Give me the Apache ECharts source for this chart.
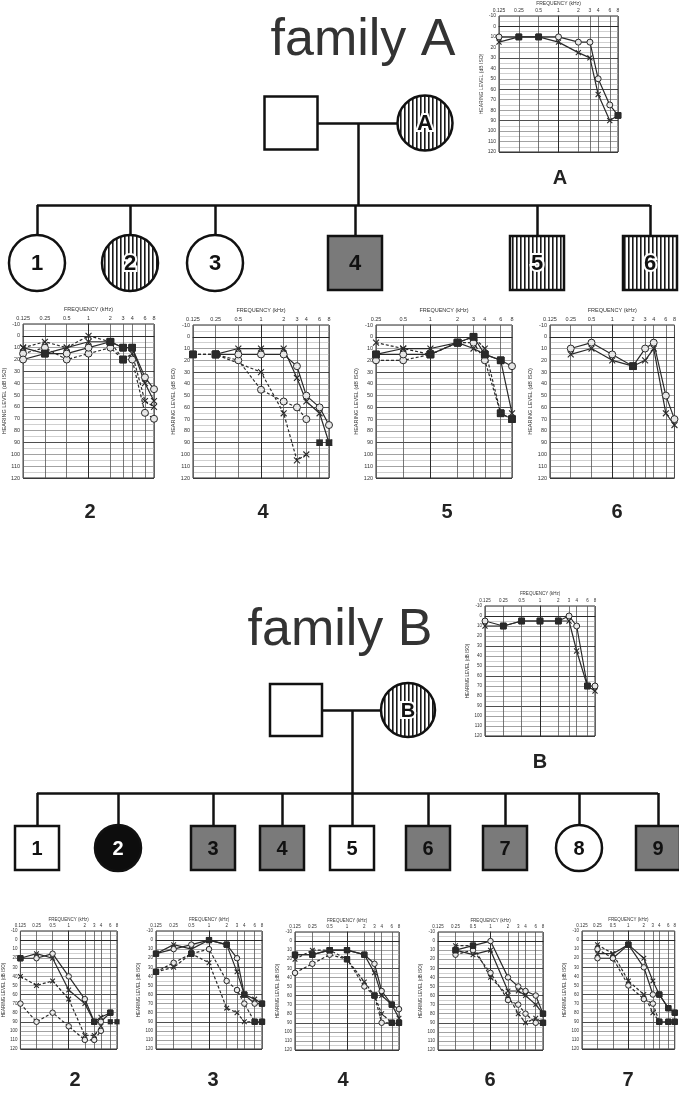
<!DOCTYPE html>
<html><head><meta charset="utf-8">
<script src="https://cdn.jsdelivr.net/npm/echarts@6/dist/echarts.min.js"></script>
<style>html,body{margin:0;padding:0;background:#fff}#c{width:679px;height:1093px}</style>
</head><body><div id="c"></div><script>
// ---------- DATA ----------
const FREQ = [0.125, 0.25, 0.5, 1, 2, 3, 4, 6, 8];
const FREQ_LABELS = ['0.125', '0.25', '0.5', '1', '2', '3', '4', '6', '8'];

// audiograms (dB HL per frequency; null = not measured). O = right ear, X = left ear, d = dashed curve
const audA_O  = [10, 10, 10, 10, 15, 15, 50, 75, 85];
const audA_X  = [15, 10, 10, 15, 25, 30, 65, 90, 85];

const audA2_O  = [20, 15, 15, 10, 5, 10, 10, 35, 45];
const audA2_X  = [10, 15, 10, 5, 5, 10, 10, 40, 55];
const audA2_Od = [15, 10, 20, 15, 10, 20, 20, 65, 70];
const audA2_Xd = [10, 5, 10, 0, 5, 20, 15, 55, 60];

const audA4_O  = [null, 15, 15, 15, 15, 25, 50, 60, 75];
const audA4_X  = [null, 15, 10, 10, 10, 35, 55, 65, 90];
const audA4_Od = [15, 15, 20, 45, 55, 60, 70, null, null];
const audA4_Xd = [15, 15, null, 30, 65, 105, 100, null, null];
const audA4_NR = [null, null, null, null, null, null, null, 90, 90];

const audA5_O  = [null, 15, 15, 15, 5, 0, 15, 20, 25];
const audA5_X  = [null, 15, 10, 10, 5, 10, 15, 20, 65];
const audA5_Od = [null, 20, 20, 15, 5, 5, 20, 65, 70];
const audA5_Xd = [null, 5, 10, 15, 5, 0, 10, 65, 70];

const audA6_O  = [null, 10, 5, 15, 25, 10, 5, 50, 70];
const audA6_X  = [null, 15, 10, 20, 25, 20, 10, 65, 75];

const audB_O  = [5, 10, 5, 5, 5, 0, 10, 70, 70];
const audB_X  = [10, 10, 5, 5, 5, 5, 35, 70, 75];

const audB2_O  = [20, 20, 15, 40, 65, 90, 90, 80, null];
const audB2_X  = [20, 15, 20, 55, 70, 90, 85, 80, null];
const audB2_Od = [70, 90, 80, 95, 110, 110, 100, null, null];
const audB2_Xd = [40, 50, 45, 65, 105, 105, 95, null, null];
const audB2_NR = [null, null, null, null, null, null, null, 90, 90];

const audB3_O  = [15, 10, 5, 0, 5, 20, 60, 70, 70];
const audB3_X  = [15, 5, 10, 0, 5, 35, 60, 65, 70];
const audB3_Od = [35, 25, 15, 10, 45, 55, 70, 90, 90];
const audB3_Xd = [35, 30, 15, 25, 75, 80, 90, 90, 90];

const audB4_O  = [15, 15, 10, 10, 15, 25, 55, 70, 75];
const audB4_X  = [15, 15, 10, 10, 15, 35, 60, 70, 85];
const audB4_Od = [35, 25, 15, 20, 50, 60, 90, 90, 90];
const audB4_Xd = [20, 10, 10, 20, 45, 60, 80, 90, 90];

const audB6_O  = [null, 10, 5, 0, 40, 50, 55, 60, 80];
const audB6_X  = [null, 10, 15, 10, 55, 55, 60, 70, 80];
const audB6_Od = [null, 15, 10, 35, 65, 70, 80, 90, 90];
const audB6_Xd = [null, 5, 5, 40, 60, 80, 90, 85, 90];

const audB7_O  = [null, 20, 20, 5, 30, 60, 60, 75, 80];
const audB7_X  = [null, 15, 15, 5, 20, 45, 60, 75, 80];
const audB7_Od = [null, 10, 20, 50, 65, 70, 90, 90, 90];
const audB7_Xd = [null, 5, 15, 45, 60, 80, 90, 90, 90];

// pedigree: parents first (father, mother), then children
const pedA_labels = ['', 'A', '1', '2', '3', '4', '5', '6'];
const pedA_sex    = ['M', 'F', 'F', 'F', 'F', 'M', 'M', 'M'];
const pedA_status = ['none', 'hatch', 'none', 'hatch', 'none', 'gray', 'hatch', 'hatch'];

const pedB_labels = ['', 'B', '1', '2', '3', '4', '5', '6', '7', '8', '9'];
const pedB_sex    = ['M', 'F', 'M', 'F', 'M', 'M', 'M', 'M', 'M', 'F', 'M'];
const pedB_status = ['none', 'hatch', 'none', 'black', 'gray', 'gray', 'none', 'gray', 'gray', 'none', 'gray'];

// ---------- LAYOUT ----------
const AUDS = [
  {O:[audA_O], X:[audA_X], fmin:0.125, L:{left:499, top:16, width:119, height:136, fs:5, sym:6, gx:10, gy:13}},
  {O:[audA2_O, audA2_Od], X:[audA2_X, audA2_Xd], fmin:0.125, L:{left:21, top:324, width:133, height:154, fs:5.5, sym:7, gx:12, gy:14}},
  {O:[audA4_O, audA4_Od], X:[audA4_X, audA4_Xd], NR:audA4_NR, fmin:0.125, L:{left:193, top:325, width:136, height:153, fs:5.5, sym:7, gx:12, gy:14}},
  {O:[audA5_O, audA5_Od], X:[audA5_X, audA5_Xd], fmin:0.25, L:{left:376, top:325, width:136, height:153, fs:5.5, sym:7, gx:12, gy:14}},
  {O:[audA6_O], X:[audA6_X], fmin:0.125, L:{left:550, top:325, width:132, height:153, fs:5.5, sym:7, gx:12, gy:14}},
  {O:[audB_O], X:[audB_X], fmin:0.125, L:{left:485, top:606, width:110, height:130, fs:4.5, sym:6, gx:10, gy:13}},
  {O:[audB2_O, audB2_Od], X:[audB2_X, audB2_Xd], NR:audB2_NR, fmin:0.125, L:{left:13, top:931, width:104, height:118, fs:4.5, sym:5.5, gx:9, gy:11}},
  {O:[audB3_O, audB3_Od], X:[audB3_X, audB3_Xd], fmin:0.125, L:{left:156, top:931, width:106, height:118, fs:4.5, sym:5.5, gx:9, gy:11}},
  {O:[audB4_O, audB4_Od], X:[audB4_X, audB4_Xd], fmin:0.125, L:{left:295, top:932, width:104, height:118, fs:4.5, sym:5.5, gx:9, gy:11}},
  {O:[audB6_O, audB6_Od], X:[audB6_X, audB6_Xd], fmin:0.125, L:{left:438, top:932, width:105, height:118, fs:4.5, sym:5.5, gx:9, gy:11}},
  {O:[audB7_O, audB7_Od], X:[audB7_X, audB7_Xd], fmin:0.125, L:{left:582, top:931, width:104, height:118, fs:4.5, sym:5.5, gx:9, gy:11}}
];

const PED_LAYOUT = {
  A: {parentX:[291, 425], parentY:123, sibY:205, childX:[37, 130, 215, 355, 537, 650], childY:263, pSize:53, cSize:54, fs:22},
  B: {parentX:[296, 408], parentY:710, sibY:793, childX:[37, 118, 213, 282, 352, 428, 505, 579, 658], childY:848, pSize:52, cSize:44, fs:20}
};

// ---------- BUILD ----------
function hatchCanvas() {
  const c = document.createElement('canvas');
  c.width = 4; c.height = 4;
  const g = c.getContext('2d');
  g.fillStyle = '#fff'; g.fillRect(0, 0, 4, 4);
  g.fillStyle = '#1a1a1a'; g.fillRect(0, 0, 1.6, 4);
  return c;
}
const HATCH = {image: hatchCanvas(), repeat: 'repeat'};
const CROSS = 'path://M0,0L10,10M10,0L0,10';
const INK = '#2a2a2a';
const FONT = '"Liberation Sans", Arial, sans-serif';

const grids = [], xAxes = [], yAxes = [], series = [];

function freqLabel(v) {
  for (let i = 0; i < FREQ.length; i++) if (Math.abs(Math.log2(FREQ[i]) - v) < 1e-6) return FREQ_LABELS[i];
  return '';
}

AUDS.forEach((a, i) => {
  const L = a.L;
  grids.push({left:L.left, top:L.top, width:L.width, height:L.height, show:true, borderColor:INK, borderWidth:1, containLabel:false});
  const ticks = FREQ.filter(f => f >= a.fmin).map(f => Math.log2(f));
  xAxes.push({
    gridIndex:i, type:'value', position:'top', min:Math.log2(a.fmin), max:3,
    name:'FREQUENCY (kHz)', nameLocation:'middle', nameGap:L.gx,
    nameTextStyle:{fontSize:L.fs, color:'#333', fontFamily:FONT},
    axisLine:{show:true, lineStyle:{color:INK, width:1}},
    axisTick:{show:false, customValues:ticks},
    axisLabel:{customValues:ticks, fontSize:L.fs, color:'#333', margin:2.5, formatter:freqLabel, fontFamily:FONT},
    splitLine:{show:true, lineStyle:{color:'#555', width:0.8}}
  });
  yAxes.push({
    gridIndex:i, type:'value', min:-10, max:120, interval:10, inverse:true,
    name:'HEARING LEVEL (dB ISO)', nameLocation:'middle', nameGap:L.gy, nameRotate:90,
    nameTextStyle:{fontSize:L.fs, color:'#333', fontFamily:FONT},
    axisLine:{show:true, lineStyle:{color:INK, width:1}},
    axisTick:{show:false},
    axisLabel:{fontSize:L.fs, color:'#333', margin:3, fontFamily:FONT},
    splitLine:{show:true, lineStyle:{color:['#8a8a8a', '#222', '#8a8a8a'], width:0.8}},
    minorTick:{show:false, splitNumber:2},
    minorSplitLine:{show:true, lineStyle:{color:'#b0b0b0', width:0.6}}
  });

  const overlap = (kind, fi, v) => (kind === 'O' ? a.X : a.O).some(arr => arr && arr[fi] === v);
  const build = (arr, kind) => FREQ.map((f, fi) => {
    if (arr[fi] == null) return null;
    const item = {value:[Math.log2(f), arr[fi]]};
    if (overlap(kind, fi, arr[fi])) {
      item.symbol = 'rect'; item.symbolSize = L.sym * 0.95;
      item.itemStyle = {color:INK, borderColor:INK, borderWidth:1};
    }
    return item;
  }).filter(Boolean);

  ['O', 'X'].forEach(kind => {
    a[kind].forEach((arr, k) => {
      series.push({
        type:'line', xAxisIndex:i, yAxisIndex:i, data:build(arr, kind),
        symbol: kind === 'O' ? 'circle' : CROSS, symbolSize: kind === 'O' ? L.sym : L.sym * 0.85,
        showAllSymbol:true, animation:false, silent:true,
        lineStyle:{color:INK, width:1.2, type: k === 0 ? 'solid' : [3, 2]},
        itemStyle: kind === 'O' ? {color:'#e6e6e6', borderColor:INK, borderWidth:1}
                                : {color:INK, borderColor:INK, borderWidth:1.1},
        z: k === 0 ? 4 : 3
      });
    });
  });
  if (a.NR) {
    series.push({
      type:'scatter', xAxisIndex:i, yAxisIndex:i, symbol:'rect', symbolSize:L.sym * 0.95,
      data: FREQ.map((f, fi) => a.NR[fi] == null ? null : [Math.log2(f), a.NR[fi]]).filter(Boolean),
      itemStyle:{color:INK, opacity:1}, animation:false, silent:true, z:5
    });
  }
});

// pedigree grid (whole canvas)
const PG = AUDS.length;
grids.push({left:0, top:0, width:679, height:1093, show:false});
xAxes.push({gridIndex:PG, type:'value', min:0, max:679, show:false});
yAxes.push({gridIndex:PG, type:'value', min:0, max:1093, inverse:true, show:false});

function pedigree(labels, sex, status, lay) {
  const pts = [], segs = [];
  for (let k = 0; k < labels.length; k++) {
    const isParent = k < 2;
    pts.push({
      x: isParent ? lay.parentX[k] : lay.childX[k - 2],
      y: isParent ? lay.parentY : lay.childY,
      size: (isParent ? lay.pSize : lay.cSize) + (sex[k] === 'F' ? 2 : 0),
      sex: sex[k], label: labels[k], status: status[k]
    });
  }
  const [fx, mx] = lay.parentX, py = lay.parentY;
  const midX = (fx + mx) / 2;
  segs.push({coords:[[fx, py], [mx, py]]});
  segs.push({coords:[[midX, py], [midX, lay.sibY]]});
  segs.push({coords:[[Math.min(...lay.childX), lay.sibY], [Math.max(...lay.childX), lay.sibY]]});
  lay.childX.forEach(cx => segs.push({coords:[[cx, lay.sibY], [cx, lay.childY]]}));
  series.push({type:'lines', coordinateSystem:'cartesian2d', xAxisIndex:PG, yAxisIndex:PG, data:segs,
    lineStyle:{color:'#111', width:2.5, opacity:1}, z:1, silent:true, animation:false});
  series.push({
    type:'custom', coordinateSystem:'cartesian2d', xAxisIndex:PG, yAxisIndex:PG, z:2, silent:true, animation:false,
    data: pts.map(p => [p.x, p.y]),
    renderItem: (params, api) => {
      const p = pts[params.dataIndex];
      const c = api.coord([api.value(0), api.value(1)]);
      const s = p.size;
      const fill = p.status === 'hatch' ? HATCH : p.status === 'gray' ? '#7a7a7a' : p.status === 'black' ? '#0d0d0d' : '#fff';
      const shape = p.sex === 'M'
        ? {type:'rect', shape:{x:c[0] - s / 2, y:c[1] - s / 2, width:s, height:s}}
        : {type:'circle', shape:{cx:c[0], cy:c[1], r:s / 2}};
      shape.style = {fill:fill, stroke:'#111', lineWidth:2.5};
      const children = [shape];
      if (p.label) {
        children.push({type:'text', style:{
          text:p.label, x:c[0], y:c[1] + 1, align:'center', verticalAlign:'middle',
          font:'bold ' + lay.fs + 'px ' + FONT,
          fill: p.status === 'black' ? '#fff' : '#111',
          stroke: p.status === 'hatch' ? '#fff' : null, lineWidth: p.status === 'hatch' ? 4 : 0
        }});
      }
      return {type:'group', children:children};
    }
  });
}
pedigree(pedA_labels, pedA_sex, pedA_status, PED_LAYOUT.A);
pedigree(pedB_labels, pedB_sex, pedB_status, PED_LAYOUT.B);

const bigT = {fontSize:52, fontWeight:'normal', color:'#333', fontFamily:FONT};
const lblT = {fontSize:20, fontWeight:'bold', color:'#222', fontFamily:FONT};
const titles = [
  {text:'family A', left:363, top:15, textAlign:'center', textStyle:bigT},
  {text:'family B', left:340, top:605, textAlign:'center', textStyle:bigT},
  {text:'A', left:560, top:168, textAlign:'center', textStyle:lblT},
  {text:'B', left:540, top:752, textAlign:'center', textStyle:lblT}
];
[['2', 90], ['4', 263], ['5', 447], ['6', 617]].forEach(([t, x]) => titles.push({text:t, left:x, top:502, textAlign:'center', textStyle:lblT}));
[['2', 75], ['3', 213], ['4', 343], ['6', 490], ['7', 628]].forEach(([t, x]) => titles.push({text:t, left:x, top:1070, textAlign:'center', textStyle:lblT}));
titles.forEach(t => t.padding = 0);

const chart = echarts.init(document.getElementById('c'), null, {renderer:'canvas'});
chart.setOption({
  backgroundColor:'#fff', animation:false,
  title:titles, grid:grids, xAxis:xAxes, yAxis:yAxes, series:series
});
</script></body></html>
